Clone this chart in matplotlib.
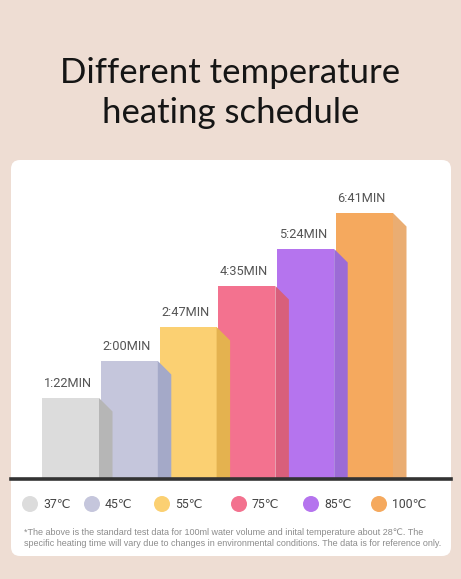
import matplotlib.pyplot as plt
from matplotlib.patches import Polygon, Rectangle, FancyBboxPatch, Circle

# data
temps = ['37℃', '45℃', '55℃', '75℃', '85℃', '100℃']
time_labels = ['1:22MIN', '2:00MIN', '2:47MIN', '4:35MIN', '5:24MIN', '6:41MIN']
bar_heights = [81, 118, 152, 193, 230, 266]   # drawn heights
front_cols = ['#dcdcdc', '#c5c6dc', '#fbd072', '#f3728f', '#b574ee', '#f5a95e']
side_cols = ['#b6b6b6', '#a4a9c8', '#e4b24f', '#d85f7b', '#9c6bd6', '#eaad72']

title = 'Different temperature\nheating schedule'
note = ('*The above is the standard test data for 100ml water volume and inital temperature about 28℃. The\n'
        'specific heating time will vary due to changes in environmental conditions. The data is for reference only.')

W, H = 461, 579
bg = '#eeddd3'
fig = plt.figure(figsize=(W / 100, H / 100), dpi=100)
fig.patch.set_facecolor(bg)

# overlay axes in pixel coords for card, title, legend, footnote
ov = fig.add_axes([0, 0, 1, 1])
ov.set_xlim(0, W)
ov.set_ylim(H, 0)
ov.axis('off')
ov.add_patch(FancyBboxPatch((11, 160), 440, 396, boxstyle='round,pad=0,rounding_size=9',
                            fc='white', ec='none'))
ov.text(W / 2, 93, title, ha='center', va='center', fontsize=25, color='#151515',
        family=['Lato', 'DejaVu Sans'], linespacing=1.3)

# legend
leg_x = [30, 92, 162, 239, 311, 379]
for i, t in enumerate(temps):
    ov.add_patch(Circle((leg_x[i], 504), 8, fc=front_cols[i], ec='none'))
    ov.text(leg_x[i] + 13, 505, t, ha='left', va='center', fontsize=8.8, color='#444444',
            family=['Roboto', 'DejaVu Sans'])

ov.text(24, 538, note, ha='left', va='center', fontsize=6.45, color='#8c8c8c',
        family=['Liberation Sans Narrow', 'Liberation Sans', 'DejaVu Sans'], linespacing=1.2)

# chart axes: x in bar index units, y in pixels above baseline
step = 58.8
x0 = -(70.5 - 11) / step
ax = fig.add_axes([11 / W, (H - 479) / H, 440 / W, 314 / H])
ax.set_xlim(x0, x0 + 440 / step)
ax.set_ylim(0, 314)
ax.axis('off')
ax.patch.set_alpha(0)

fw = 57 / step
dx = 13.5 / step
dy = 13.5
for i in reversed(range(len(bar_heights))):
    h = bar_heights[i]
    l = i - fw / 2
    r = i + fw / 2
    ax.add_patch(Rectangle((l, 0), fw, h, fc=front_cols[i], ec='none', zorder=2))
    ax.add_patch(Polygon([(r, 0), (r, h), (r + dx, h - dy), (r + dx, 0)],
                         closed=True, fc=side_cols[i], ec='none', zorder=2))
    ax.text(i - 0.05, h + 8, time_labels[i], ha='center', va='bottom', fontsize=9.2,
            color='#555555', family=['Roboto', 'DejaVu Sans'], zorder=3)

ax.axhline(0, color='#333333', lw=2.6, zorder=4, clip_on=False)

fig.savefig('out.png', dpi=100, facecolor=bg)
